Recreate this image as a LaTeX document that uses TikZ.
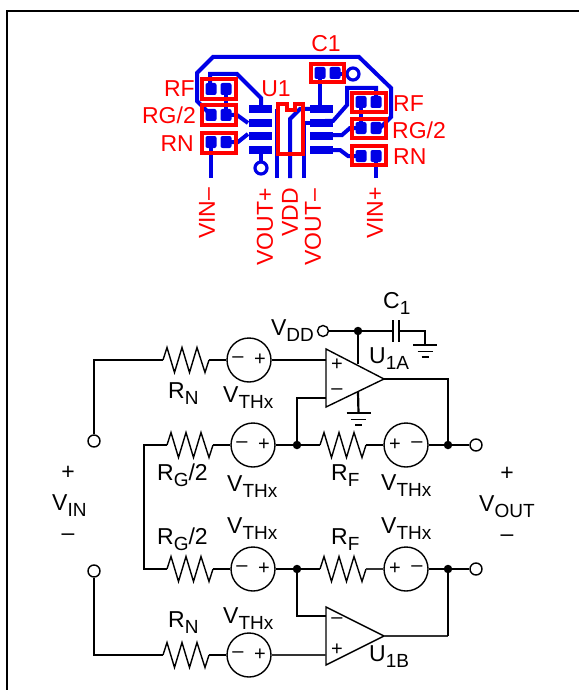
\documentclass[tikz,border=0pt]{standalone}
\usepackage{fontspec}
\setmainfont{Liberation Sans}
\definecolor{pcbblue}{RGB}{0,0,230}
\definecolor{silkred}{RGB}{255,0,0}
\newcommand{\lbl}[2]{#1\raisebox{-0.29em}{\fontsize{19}{19}\selectfont #2}}
\tikzset{
  txt/.style={inner sep=0pt,font=\fontsize{23}{25}\selectfont},
  sch/.style={txt,anchor=base west},
  sign/.style={inner sep=0pt,font=\fontsize{20}{20}\selectfont},
  red/.style={txt,text=silkred},
  redv/.style={txt,text=silkred,rotate=90},
  trace/.style={draw=pcbblue,line width=4pt,line join=miter},
  pad/.style={fill=pcbblue,rounded corners=2pt},
  icpad/.style={fill=pcbblue},
  silk/.style={draw=silkred,line width=3.2pt},
  via/.style={circle,draw=pcbblue,line width=3.2pt,minimum size=12pt,inner sep=0pt},
  wire/.style={draw=black,line width=2.2pt},
  thin/.style={draw=black!80,line width=1.3pt},
  part/.style={draw=black,line width=1.4pt},
  src/.style={circle,draw=black,line width=1.4pt,minimum size=44pt,inner sep=0pt,fill=white},
  dot/.style={circle,fill=black,minimum size=8.5pt,inner sep=0pt},
  term/.style={circle,draw=black,line width=1.4pt,minimum size=12pt,inner sep=0pt,fill=white},
}
\newcommand{\resist}[3]{%
  \coordinate (#1l) at (#2,#3);
  \coordinate (#1r) at (#2+46,#3);
  \draw[part,line join=miter] (#2,#3) -- ++(4,-12.5) -- ++(7.5,25) -- ++(7.5,-25) -- ++(7.5,25) -- ++(7.5,-25) -- ++(8,25) -- ++(4,-12.5);}
\newcommand{\padat}[2]{\fill[pad] (#1-5.5,#2-6) rectangle (#1+5.5,#2+6);}
\newcommand{\icpadat}[2]{\fill[icpad] (#1-11.5,#2-4) rectangle (#1+11.5,#2+4);}
\newcommand{\gnd}[4]{\coordinate (#1) at (#2,#3);
  \draw[part,line width=1.6pt] (#2-12,#3) -- (#2+12,#3) (#2-7.5,#3+6.5) -- (#2+7.5,#3+6.5) (#2-3.5,#3+12) -- (#2+3.5,#3+12);}
\newcommand{\srcat}[5]{\node[src] (#1) at (#2,#3) {};
  \node[sign] at (#2+#4,#3) {–}; \node[sign] at (#2-#4,#3) {+};}
\begin{document}
\begin{tikzpicture}[x=1pt,y=-1pt]
\useasboundingbox (0,0) rectangle (579,690);
\fill[white] (0,0) rectangle (579,690);
\draw[line width=2.5pt] (7,690) -- (7,11) -- (579,11);

% ---------- PCB: traces
\draw[trace] (211,115) -- (208,112) -- (197,101) -- (197,73) -- (213,57) -- (359,57) -- (391,88) -- (391,117) -- (380,128) -- (376,128);
\draw[trace] (210,89) -- (210,74) -- (237,74) -- (261,98) -- (261,109);
\draw[trace] (226,89) -- (226,115);
\draw[trace] (226,115) -- (237,115) -- (248,123);
\draw[trace] (226,142) -- (238,142) -- (248,134);
\draw[trace] (211,142) -- (211,178);
\draw[trace] (261,150) -- (261,162);
\draw[trace] (277,109) -- (277,178);
\draw[trace] (310,109) -- (300,109) -- (290,119) -- (290,178);
\draw[trace] (310,123) -- (304,123) -- (304,178);
\draw[trace] (320,73) -- (320,109);
\draw[trace] (335,74) -- (347,74);
\draw[trace] (376,102) -- (376,88) -- (347,88) -- (347,105) -- (333,121) -- (325,121);
\draw[trace] (361,102) -- (361,128);
\draw[trace] (361,128) -- (350,128) -- (342,135) -- (325,135);
\draw[trace] (325,150) -- (340,150) -- (348,156) -- (361,156);
\draw[trace] (376,156) -- (376,178);
\node[via] (via1) at (261,168) {};
\node[via] (via2) at (353,74) {};
% pads
\padat{211}{89}\padat{226}{89}\padat{211}{115}\padat{226}{115}\padat{211}{142}\padat{226}{142}
\padat{320}{73}\padat{335}{73}
\padat{361}{102}\padat{376}{102}\padat{361}{128}\padat{376}{128}\padat{361}{156}\padat{376}{156}
\icpadat{260.5}{109}\icpadat{260.5}{123}\icpadat{260.5}{136}\icpadat{260.5}{150}
\icpadat{321.5}{109}\icpadat{321.5}{123}\icpadat{321.5}{136}\icpadat{321.5}{150}
% silk
\draw[silk] (202,79) rectangle (236,99);
\draw[silk] (202,105) rectangle (236,125);
\draw[silk] (202,133) rectangle (236,153);
\draw[silk] (311,64) rectangle (344,82);
\draw[silk] (352,93) rectangle (386,112);
\draw[silk] (352,119) rectangle (386,138);
\draw[silk] (352,146) rectangle (386,165);
\draw[silk,line join=miter] (287,104) -- (278,104) -- (278,154) -- (303,154) -- (303,104) -- (295,104) -- (295,110) -- (287,110) -- cycle;
% silk labels
\node[red] (lc1) at (326,44) {C1};
\node[red] (lu1) at (276,89) {U1};
\node[red,anchor=base east] (lrf1) at (195,97) {RF};
\node[red,anchor=base east] (lrg1) at (196,124) {RG/2};
\node[red,anchor=base east] (lrn1) at (194,151) {RN};
\node[red,anchor=base west] (lrf2) at (393,111) {RF};
\node[red,anchor=base west] (lrg2) at (392,138) {RG/2};
\node[red,anchor=base west] (lrn2) at (393,164) {RN};
\node[redv,anchor=west] (lv1) at (207,239) {VIN–};
\node[redv,anchor=west] (lv2) at (265,266) {VOUT+};
\node[redv,anchor=west] (lv3) at (290,237) {VDD};
\node[redv,anchor=west] (lv4) at (313,266) {VOUT–};
\node[redv,anchor=west] (lv5) at (375,239) {VIN+};

% ---------- Schematic
\node[term] (tin1) at (94,441) {};
\node[term] (tin2) at (94,571) {};
\node[term] (tout1) at (476,445) {};
\node[term] (tout2) at (476,569) {};
\node[term,minimum size=11pt] (tvdd) at (323,331) {};
\node[dot] (dvdd) at (358,331) {};
\node[dot] (d1) at (297,445) {};
\node[dot] (d2) at (448,445) {};
\node[dot] (d3) at (297,569) {};
\node[dot] (d4) at (448,569) {};
\srcat{s1}{249}{360}{-11}{}
\srcat{s2}{253}{445}{-11}{}
\srcat{s3}{406}{445}{11}{}
\srcat{s4}{253}{569}{-11}{}
\srcat{s5}{406}{569}{11}{}
\srcat{s6}{249}{655}{-11}{}
\resist{r1}{163}{360}
\resist{r2}{167}{445}
\resist{r3}{320}{445}
\resist{r4}{167}{569}
\resist{r5}{320}{569}
\resist{r6}{163}{655}
% op amps
\draw[part,line join=miter] (326,349) -- (384,379) -- (326,407) -- cycle;
\draw[part,line join=miter] (326,607) -- (384,636) -- (326,665) -- cycle;
\coordinate (a1p) at (326,360); \coordinate (a1m) at (326,398); \coordinate (a1o) at (384,379);
\coordinate (a2m) at (326,616); \coordinate (a2p) at (326,655); \coordinate (a2o) at (384,636);
\node[sign] at (337,365) {+}; \node[sign] at (337,392) {–};
\node[sign] at (337,621) {–}; \node[sign] at (337,650) {+};
% wires
\draw[wire] (tin1) -- (94,360) -- (r1l);
\draw[wire] (r1r) -- (s1);
\draw[wire] (s1) -- (a1p);
\draw[wire] (r2l) -- (144,445) -- (144,569) -- (r4l);
\draw[wire] (r2r) -- (s2);
\draw[wire] (s2) -- (d1);
\draw[wire] (d1) -- (r3l);
\draw[wire] (r3r) -- (s3);
\draw[wire] (s3) -- (d2);
\draw[wire] (d2) -- (tout1);
\draw[wire] (d1) -- (297,398) -- (a1m);
\draw[wire] (a1o) -- (448,379) -- (d2);
\draw[wire] (r4r) -- (s4);
\draw[wire] (s4) -- (d3);
\draw[wire] (d3) -- (r5l);
\draw[thin] (r5r) -- (s5);
\draw[wire] (s5) -- (d4);
\draw[wire] (d4) -- (tout2);
\draw[wire] (d3) -- (297,616) -- (a2m);
\draw[thin] (a2o) -- (448,636);
\draw[wire] (448,636) -- (d4);
\draw[wire] (tin2) -- (94,655) -- (r6l);
\draw[wire] (r6r) -- (s6);
\draw[thin] (s6) -- (a2p);
% supply
\draw[wire] (tvdd) -- (dvdd);
\draw[wire] (dvdd) -- (358,364);
\coordinate (c1a) at (393,331); \coordinate (c1b) at (399,331);
\draw[wire] (dvdd) -- (c1a);
\draw[wire] (393,320) -- (393,342);
\draw[wire] (399,320) -- (399,342);
\gnd{g1}{425}{345}{}
\gnd{g2}{358.5}{413}{}
\draw[wire] (c1b) -- (425,331) -- (g1);
\draw[wire] (358,392) -- (g2);
% schematic labels
\node[txt,anchor=base east] (vdd) at (314,335) {\lbl{V}{DD}};
\node[sch] (lr1) at (168,398) {\lbl{R}{N}};
\node[sch] (lth1) at (223,402) {\lbl{V}{THx}};
\node[sch] (lr2) at (157,480) {\lbl{R}{G}/2};
\node[sch] (lth2) at (227,491) {\lbl{V}{THx}};
\node[sch] (lr3) at (331,480) {\lbl{R}{F}};
\node[sch] (lth3) at (381,490) {\lbl{V}{THx}};
\node[sch] (lu1a) at (369,363) {\lbl{U}{1A}};
\node[sch] (lc) at (383,308) {\lbl{C}{1}};
\node[txt] at (68,473) {+};
\node[sch] (lvin) at (52,510) {\lbl{V}{IN}};
\node[txt] at (68,537) {–};
\node[txt] at (507,474) {+};
\node[sch] (lvout) at (479,511) {\lbl{V}{OUT}};
\node[txt] at (507,538) {–};
\node[sch] (lr4) at (157,544) {\lbl{R}{G}/2};
\node[sch] (lth4) at (227,533) {\lbl{V}{THx}};
\node[sch] (lr5) at (331,544) {\lbl{R}{F}};
\node[sch] (lth5) at (381,533) {\lbl{V}{THx}};
\node[sch] (lr6) at (168,627) {\lbl{R}{N}};
\node[sch] (lth6) at (223,623) {\lbl{V}{THx}};
\node[sch] (lu1b) at (369,661) {\lbl{U}{1B}};
\end{tikzpicture}
\end{document}
